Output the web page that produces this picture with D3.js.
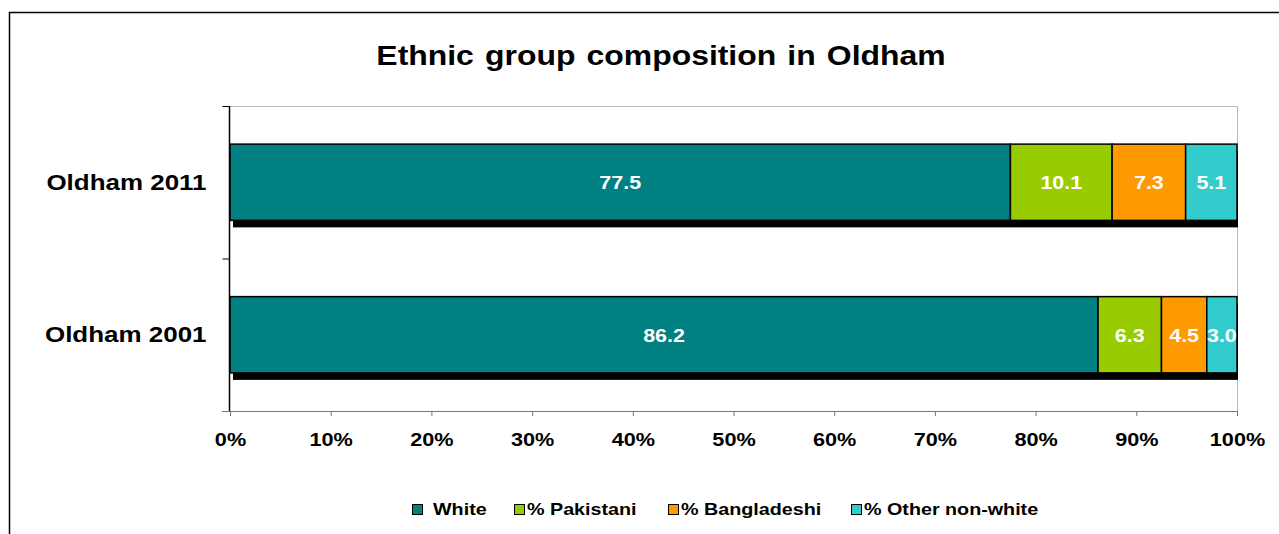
<!DOCTYPE html>
<html>
<head>
<meta charset="utf-8">
<script src="https://cdn.jsdelivr.net/npm/d3@7"></script>
<style>
  html, body { margin: 0; padding: 0; background: #fff; }
  svg { display: block; font-family: "Liberation Sans", Arial, sans-serif; }
</style>
</head>
<body>
<svg id="chart" width="1279" height="534"></svg>
<script>
// Categories, series and values
const categories = ["Oldham 2011", "Oldham 2001"];
const seriesNames = ["White", "% Pakistani", "% Bangladeshi", "% Other non-white"];
const white = [77.5, 86.2];
const pakistani = [10.1, 6.3];
const bangladeshi = [7.3, 4.5];
const otherNonWhite = [5.1, 3.0];
const colors = ["#008080", "#99CC00", "#FF9900", "#33CCCC"];
const tickValues = [0, 10, 20, 30, 40, 50, 60, 70, 80, 90, 100];

const seriesValues = [white, pakistani, bangladeshi, otherNonWhite];
const rows = categories.map((c, i) => {
  const r = { category: c };
  seriesNames.forEach((s, j) => r[s] = seriesValues[j][i]);
  return r;
});
const stacked = d3.stack().keys(seriesNames)(rows);

const svg = d3.select("#chart");
const plot = { left: 230, right: 1237, top: 106, bottom: 411 };
const wide = s => `scale(${s},1)`;   // slightly widened lettering

// Outer chart frame
svg.append("rect")
  .attr("x", 9.5).attr("y", 12.5)
  .attr("width", 1400).attr("height", 700)
  .attr("fill", "none").attr("stroke", "#000").attr("stroke-width", 1.5);

// Title
svg.append("g").attr("transform", "translate(661,65)")
  .append("text")
  .attr("transform", wide(1.14))
  .attr("text-anchor", "middle")
  .attr("font-size", 28).attr("font-weight", "bold")
  .attr("word-spacing", 2)
  .text("Ethnic group composition in Oldham");

const x = d3.scaleLinear().domain([0, 100]).range([plot.left, plot.right]);
const y = d3.scaleBand().domain(categories).range([plot.top, plot.bottom])
  .paddingInner(0.5).paddingOuter(0.25);

// Plot area outline (top and right)
svg.append("path")
  .attr("d", `M${plot.left},${plot.top + 0.5}H${plot.right + 0.5}V${plot.bottom}`)
  .attr("fill", "none").attr("stroke", "#bbb").attr("stroke-width", 1);

// Bar shadows
svg.append("g").selectAll("rect")
  .data(categories)
  .join("rect")
  .attr("x", x(0) + 3)
  .attr("y", d => y(d) + 7)
  .attr("width", x(100) - x(0) - 2)
  .attr("height", y.bandwidth())
  .attr("fill", "#000");

// Stacked segments
const layers = svg.append("g").selectAll("g")
  .data(stacked)
  .join("g")
  .attr("fill", (d, i) => colors[i]);

layers.selectAll("rect")
  .data(d => d)
  .join("rect")
  .attr("x", d => x(d[0]))
  .attr("y", d => y(d.data.category))
  .attr("width", d => x(d[1]) - x(d[0]))
  .attr("height", y.bandwidth())
  .attr("stroke", "#000").attr("stroke-width", 1.5);

// Value labels
layers.selectAll("g.val")
  .data(d => d.map(v => ({ v, key: d.key })))
  .join("g").attr("class", "val")
  .attr("transform", d => `translate(${(x(d.v[0]) + x(d.v[1])) / 2},${y(d.v.data.category) + y.bandwidth() / 2})`)
  .append("text")
  .attr("transform", wide(1.13))
  .attr("dy", "0.36em")
  .attr("text-anchor", "middle")
  .attr("fill", "#fff")
  .attr("font-size", 19).attr("font-weight", "bold")
  .text(d => (d.v[1] - d.v[0]).toFixed(1));

// X axis
const xAxis = svg.append("g")
  .attr("transform", `translate(0,${plot.bottom})`)
  .call(d3.axisBottom(x).tickValues(tickValues).tickFormat(d => d + "%").tickSize(5).tickPadding(17));
xAxis.select(".domain").attr("stroke", "#777").attr("d", `M${plot.left - 8},0.5H${plot.right}`);
xAxis.selectAll(".tick line").attr("stroke", "#777");
xAxis.selectAll(".tick text")
  .attr("transform", wide(1.14))
  .attr("fill", "#000").attr("font-size", 19).attr("font-weight", "bold")
  .attr("font-family", "'Liberation Sans', Arial, sans-serif");

// Y axis with category separators
const yAxis = svg.append("g").attr("transform", `translate(${plot.left - 0.5},0)`);
yAxis.append("line")
  .attr("y1", plot.top).attr("y2", plot.bottom)
  .attr("stroke", "#000").attr("stroke-width", 1.5);
const sepPositions = [plot.top, (plot.top + plot.bottom) / 2];
yAxis.selectAll("line.sep")
  .data(sepPositions)
  .join("line").attr("class", "sep")
  .attr("x1", -7).attr("x2", 0)
  .attr("y1", d => d + 0.5).attr("y2", d => d + 0.5)
  .attr("stroke", "#000").attr("stroke-width", 1);
yAxis.selectAll("g.cat")
  .data(categories)
  .join("g").attr("class", "cat")
  .attr("transform", d => `translate(-23,${y(d) + y.bandwidth() / 2})`)
  .append("text")
  .attr("transform", wide(1.18))
  .attr("dy", "0.33em")
  .attr("text-anchor", "end")
  .attr("font-size", 22).attr("font-weight", "bold")
  .text(d => d);

// Legend
const legendX = [412, 514, 668, 851];
const legend = svg.append("g").selectAll("g")
  .data(seriesNames)
  .join("g")
  .attr("transform", (d, i) => `translate(${legendX[i]},509)`);
legend.append("rect")
  .attr("x", 0.5).attr("y", -4.5)
  .attr("width", 10).attr("height", 10)
  .attr("fill", (d, i) => colors[i])
  .attr("stroke", "#000").attr("stroke-width", 1);
legend.append("g")
  .attr("transform", (d, i) => `translate(${i === 0 ? 21 : 13},5.5)`)
  .append("text")
  .attr("transform", wide(1.16))
  .attr("font-size", 17).attr("font-weight", "bold")
  .text(d => d);
</script>
</body>
</html>
